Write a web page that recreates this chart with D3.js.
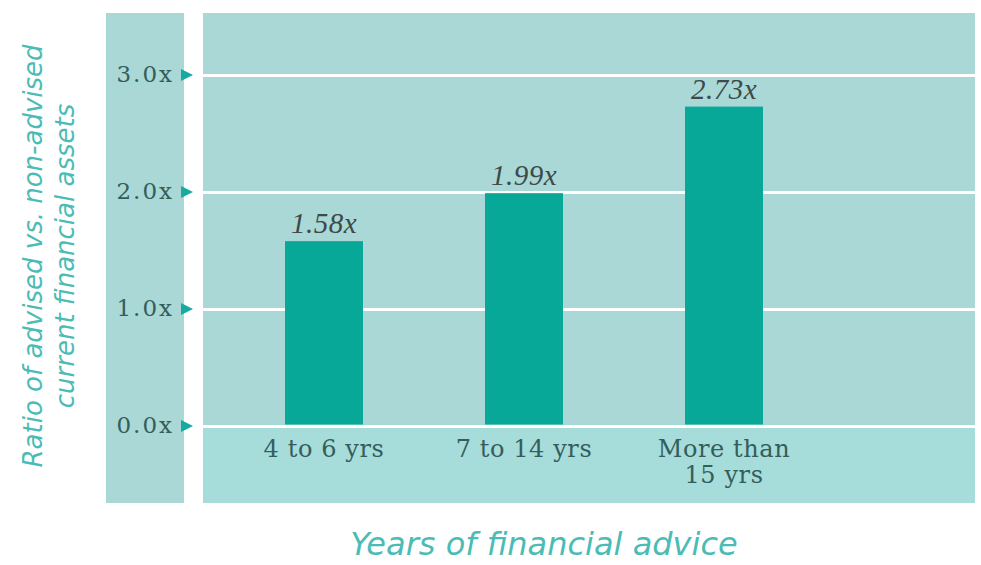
<!DOCTYPE html>
<html>
<head>
<meta charset="utf-8">
<script src="https://cdn.jsdelivr.net/npm/d3@7"></script>
<style>
  html, body { margin: 0; padding: 0; background: #ffffff; }
  svg { display: block; }
</style>
</head>
<body>
<svg id="chart" width="981" height="565"></svg>
<script>
// ---- data ----
const categories = ["4 to 6 yrs", "7 to 14 yrs", "More than\n15 yrs"];
const values = [1.58, 1.99, 2.73];
const yTicks = [0, 1, 2, 3];
const yTickLabels = ["0.0x", "1.0x", "2.0x", "3.0x"];
const valueLabels = ["1.58x", "1.99x", "2.73x"];
const yTitleLines = ["Ratio of advised vs. non-advised", "current financial assets"];
const xTitle = "Years of financial advice";

// ---- styling ----
const panelFill = "#a9d8d6";
const lowerFill = "#a6dcda";
const barFill = "#08a899";
const arrowFill = "#16aaa0";
const tickText = "#345e5b";
const valueText = "#3e4a4a";
const titleText = "#4bbcb5";

const svg = d3.select("#chart");

// panels
const main = { x0: 203, x1: 975, y0: 13, y1: 503 };
svg.append("rect").attr("x", 106).attr("y", main.y0).attr("width", 78).attr("height", main.y1 - main.y0).attr("fill", panelFill);
svg.append("rect").attr("x", main.x0).attr("y", main.y0).attr("width", main.x1 - main.x0).attr("height", main.y1 - main.y0).attr("fill", panelFill);

// scales
const y = d3.scaleLinear().domain([0, 3]).range([426, 75]);
const x = d3.scaleBand().domain(categories).range([224, 824]).paddingInner(0.61).paddingOuter(0.305);

// lower band under zero line
svg.append("rect").attr("x", main.x0).attr("y", y(0)).attr("width", main.x1 - main.x0).attr("height", main.y1 - y(0)).attr("fill", lowerFill);

// gridlines
const grid = svg.append("g").attr("transform", `translate(${main.x0},0)`)
  .call(d3.axisRight(y).tickValues(yTicks).tickSize(main.x1 - main.x0).tickFormat(""));
grid.select(".domain").remove();
grid.selectAll("line").attr("stroke", "#ffffff").attr("stroke-width", 3);

// bars
svg.append("g").selectAll("rect").data(values).join("rect")
  .attr("x", (d, i) => x(categories[i]))
  .attr("y", d => y(d))
  .attr("width", x.bandwidth())
  .attr("height", d => y(0) - 1.5 - y(d))
  .attr("fill", barFill);

// value labels
svg.append("g").selectAll("text").data(values).join("text")
  .attr("x", (d, i) => x(categories[i]) + x.bandwidth() / 2)
  .attr("y", d => y(d) - 8)
  .attr("text-anchor", "middle")
  .attr("font-family", "'Liberation Serif', serif")
  .attr("font-style", "italic")
  .attr("font-size", 29)
  .attr("letter-spacing", 0.5)
  .attr("fill", valueText)
  .text((d, i) => valueLabels[i]);

// y axis tick labels
const yAxis = svg.append("g").attr("transform", "translate(174,0)")
  .call(d3.axisLeft(y).tickValues(yTicks).tickSize(0).tickPadding(0)
    .tickFormat((d, i) => yTickLabels[i]));
yAxis.select(".domain").remove();
yAxis.selectAll("text")
  .attr("font-family", "'DejaVu Serif', serif")
  .attr("font-size", 23)
  .attr("letter-spacing", 2)
  .attr("dy", "0.3em")
  .attr("fill", tickText);

// tick arrows
svg.append("g").selectAll("path").data(yTicks).join("path")
  .attr("d", d => `M181,${y(d) - 6}L193,${y(d)}L181,${y(d) + 6}Z`)
  .attr("fill", arrowFill);

// x axis category labels
const xAxis = svg.append("g").attr("transform", `translate(0,${y(0)})`)
  .call(d3.axisBottom(x).tickSize(0).tickFormat(""));
xAxis.select(".domain").remove();
xAxis.selectAll(".tick").each(function (d) {
  const lines = d.split("\n");
  const t = d3.select(this).append("text")
    .attr("text-anchor", "middle")
    .attr("font-family", "'DejaVu Serif', serif")
    .attr("font-size", 24)
    .attr("letter-spacing", 0.6)
    .attr("fill", tickText);
  lines.forEach((ln, k) => {
    t.append("tspan").attr("x", 0).attr("y", 31 + k * 26).text(ln);
  });
});

// y title
const yt = svg.append("text")
  .attr("transform", "translate(42,256) rotate(-90)")
  .attr("text-anchor", "middle")
  .attr("font-family", "'DejaVu Sans', sans-serif")
  .attr("font-style", "italic")
  .attr("font-size", 26)
  .attr("fill", titleText);
yTitleLines.forEach((ln, k) => {
  yt.append("tspan").attr("x", 0).attr("y", k * 32).text(ln);
});

// x title
svg.append("text")
  .attr("x", 544).attr("y", 555)
  .attr("text-anchor", "middle")
  .attr("font-family", "'DejaVu Sans', sans-serif")
  .attr("font-style", "italic")
  .attr("font-size", 32)
  .attr("fill", titleText)
  .text(xTitle);
</script>
</body>
</html>
